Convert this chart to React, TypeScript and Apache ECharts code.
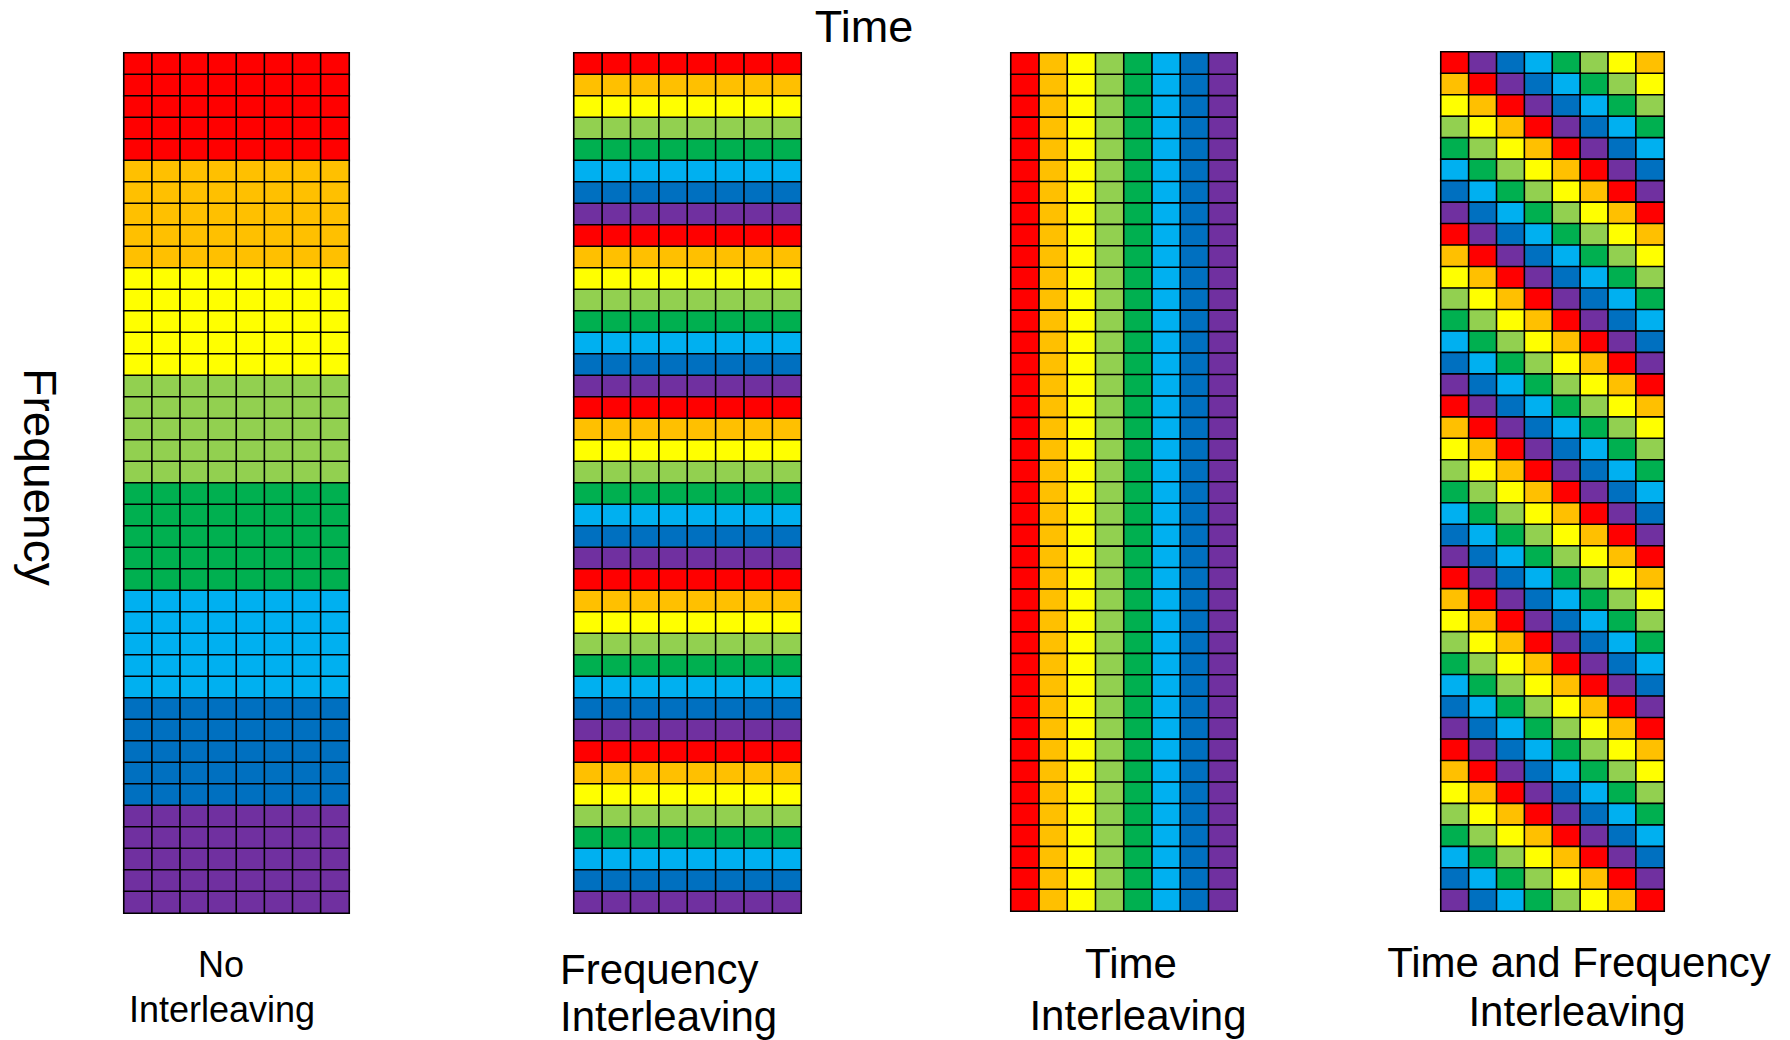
import React, { useEffect, useRef } from "react";
import * as echarts from "echarts";

// Office palette, colour index 0..7
const COLORS = ["#FF0000", "#FFC000", "#FFFF00", "#92D050", "#00B050", "#00B0F0", "#0070C0", "#7030A0"];
const TIME_SLOTS = ["1", "2", "3", "4", "5", "6", "7", "8"];
const FREQ_ROWS = Array.from({ length: 40 }, (_, i) => String(i + 1));

// No interleaving: colour index per frequency row
const noInterleavingRows: number[] = [
  0, 0, 0, 0, 0, 1, 1, 1, 1, 1, 2, 2, 2, 2, 2, 3, 3, 3, 3, 3,
  4, 4, 4, 4, 4, 5, 5, 5, 5, 5, 6, 6, 6, 6, 6, 7, 7, 7, 7, 7,
];
// Frequency interleaving: colour index per frequency row
const freqInterleavingRows: number[] = [
  0, 1, 2, 3, 4, 5, 6, 7, 0, 1, 2, 3, 4, 5, 6, 7, 0, 1, 2, 3,
  4, 5, 6, 7, 0, 1, 2, 3, 4, 5, 6, 7, 0, 1, 2, 3, 4, 5, 6, 7,
];
// Time interleaving: colour index per time column
const timeInterleavingCols: number[] = [0, 1, 2, 3, 4, 5, 6, 7];
// Time and frequency interleaving: colour index for each cell, row by row
const timeFreqRows: string[] = [
  "07654321", "10765432", "21076543", "32107654", "43210765", "54321076", "65432107", "76543210",
  "07654321", "10765432", "21076543", "32107654", "43210765", "54321076", "65432107", "76543210",
  "07654321", "10765432", "21076543", "32107654", "43210765", "54321076", "65432107", "76543210",
  "07654321", "10765432", "21076543", "32107654", "43210765", "54321076", "65432107", "76543210",
  "07654321", "10765432", "21076543", "32107654", "43210765", "54321076", "65432107", "76543210",
];

const FONT = "'Liberation Sans', Arial, sans-serif";

export default function App() {
  const ref = useRef<HTMLDivElement>(null);
  useEffect(() => {
    document.body.style.margin = "0";
    if (!ref.current) return;
    const chart = echarts.init(ref.current, null, { renderer: "svg" });

    const grids = [
      { left: 124, top: 53, width: 225, height: 860 },
      { left: 574, top: 53, width: 227, height: 860 },
      { left: 1011, top: 53, width: 226, height: 858 },
      { left: 1441, top: 52, width: 223, height: 859 },
    ];

    const cellIndex = [
      (r: number, c: number) => noInterleavingRows[r],
      (r: number, c: number) => freqInterleavingRows[r],
      (r: number, c: number) => timeInterleavingCols[c],
      (r: number, c: number) => Number(timeFreqRows[r][c]),
    ];

    const series = cellIndex.map((fn, gi) => {
      const data: number[][] = [];
      for (let r = 0; r < FREQ_ROWS.length; r++) {
        for (let c = 0; c < TIME_SLOTS.length; c++) {
          data.push([c, r, fn(r, c)]);
        }
      }
      return {
        type: "heatmap",
        xAxisIndex: gi,
        yAxisIndex: gi,
        data,
        itemStyle: { borderColor: "#000", borderWidth: 1.6 },
        emphasis: { disabled: true },
      };
    });

    const text = (t: string, x: number, y: number, size: number, align: string = "center", rotation = 0) => ({
      type: "text",
      x,
      y,
      rotation,
      style: {
        text: t,
        fill: "#000",
        font: `${size}px ${FONT}`,
        textAlign: align,
        textVerticalAlign: "middle",
      },
    });

    chart.setOption({
      animation: false,
      backgroundColor: "#fff",
      grid: grids.map((g) => ({ ...g, containLabel: false })),
      xAxis: grids.map((_, i) => ({
        type: "category",
        gridIndex: i,
        data: TIME_SLOTS,
        axisLine: { show: false },
        axisTick: { show: false },
        axisLabel: { show: false },
        splitLine: { show: false },
      })),
      yAxis: grids.map((_, i) => ({
        type: "category",
        gridIndex: i,
        inverse: true,
        data: FREQ_ROWS,
        axisLine: { show: false },
        axisTick: { show: false },
        axisLabel: { show: false },
        splitLine: { show: false },
      })),
      visualMap: {
        type: "piecewise",
        show: false,
        dimension: 2,
        seriesIndex: [0, 1, 2, 3],
        pieces: COLORS.map((c, i) => ({ value: i, color: c })),
      },
      series,
      graphic: [
        text("Time", 864, 26, 45),
        text("Frequency", 40, 477, 46, "center", -Math.PI / 2),
        text("No", 221, 964, 36),
        text("Interleaving", 222, 1009, 36),
        text("Frequency", 560, 969, 42, "left"),
        text("Interleaving", 560, 1016, 42, "left"),
        text("Time", 1131, 963, 42),
        text("Interleaving", 1138, 1015, 42),
        text("Time and Frequency", 1579, 962, 42),
        text("Interleaving", 1577, 1011, 42),
      ],
    });
    return () => chart.dispose();
  }, []);
  return <div ref={ref} style={{ width: 1790, height: 1040 }} />;
}
